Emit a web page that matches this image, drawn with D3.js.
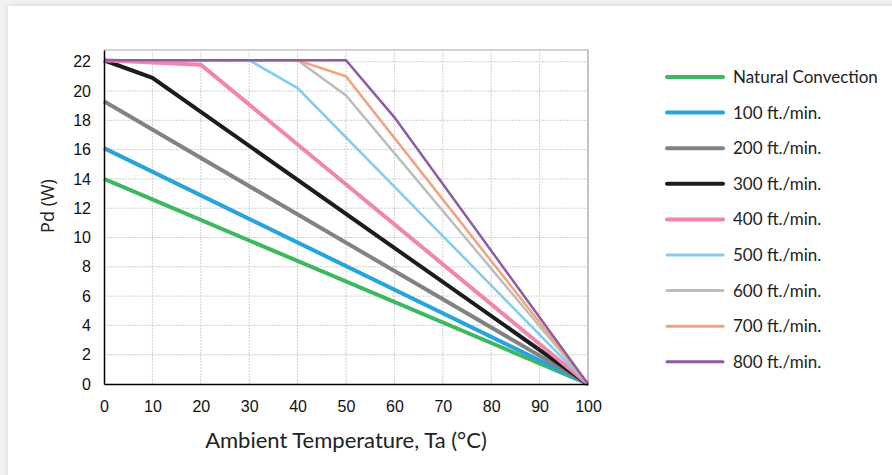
<!DOCTYPE html>
<html>
<head>
<meta charset="utf-8">
<script src="https://cdn.jsdelivr.net/npm/d3@7"></script>
<style>
    html, body { margin: 0; padding: 0; background: #f2f2f2; }
    #card {
        position: absolute; left: 8px; top: 6px; width: 900px; height: 480px;
        background: #fff; box-shadow: 0 0 6px rgba(0,0,0,0.12);
    }
    svg { position: absolute; left: 0; top: 0; }
    .tick text { font-family: 'Liberation Sans', Arial, sans-serif; font-size: 16px; fill: #111; }
</style>
</head>
<body>
<div id="card"></div>
<svg id="chart" width="892" height="475"></svg>
<script>
// DATA
const seriesNames = [
    "Natural Convection", "100 ft./min.", "200 ft./min.", "300 ft./min.",
    "400 ft./min.", "500 ft./min.", "600 ft./min.", "700 ft./min.", "800 ft./min."
];
// [temperature, Pd] breakpoints per series
const natural = [[0, 14.0], [100, 0]];
const ft100 = [[0, 16.1], [100, 0]];
const ft200 = [[0, 19.3], [100, 0]];
const ft300 = [[0, 22.1], [10, 20.9], [100, 0]];
const ft400 = [[0, 22.1], [20, 21.8], [100, 0]];
const ft500 = [[0, 22.1], [30, 22.1], [40, 20.2], [100, 0]];
const ft600 = [[0, 22.1], [40, 22.1], [50, 19.7], [100, 0]];
const ft700 = [[0, 22.1], [40, 22.1], [50, 21.0], [100, 0]];
const ft800 = [[0, 22.1], [50, 22.1], [60, 18.2], [100, 0]];
const seriesValues = [natural, ft100, ft200, ft300, ft400, ft500, ft600, ft700, ft800];
const xTicks = [0, 10, 20, 30, 40, 50, 60, 70, 80, 90, 100];
const yTicks = [0, 2, 4, 6, 8, 10, 12, 14, 16, 18, 20, 22];

const COLORS = ["#3db85f", "#27a3dd", "#808284", "#1b1d1d", "#f186aa", "#80cdee", "#bcbdbd", "#f3a27c", "#8e5ba6"];
const WIDTHS = [4, 4, 4, 4, 4, 2.5, 2.5, 2.5, 2.5];

// LAYOUT
const svg = d3.select("#chart");
const x = d3.scaleLinear().domain([0, 100]).range([104, 588]);
const y = d3.scaleLinear().domain([0, 22.8]).range([384, 50]);

// GRID
const grid = svg.append("g");
grid.selectAll("line.v").data(xTicks.slice(1)).enter().append("line")
    .attr("x1", d => x(d)).attr("x2", d => x(d))
    .attr("y1", y(0)).attr("y2", y(22.8))
    .attr("stroke", "#d0d0d0").attr("stroke-width", 1).attr("stroke-dasharray", "2,1");
grid.selectAll("line.h").data(yTicks.slice(1)).enter().append("line")
    .attr("x1", x(0)).attr("x2", x(100))
    .attr("y1", d => y(d)).attr("y2", d => y(d))
    .attr("stroke", "#d0d0d0").attr("stroke-width", 1).attr("stroke-dasharray", "2,1");

// top & right border
svg.append("path")
    .attr("d", `M${x(0)},${y(22.8)}H${x(100)}V${y(0)}`)
    .attr("fill", "none").attr("stroke", "#a8a8a8").attr("stroke-width", 1.2);

// LINES
const line = d3.line().x(d => x(d[0])).y(d => y(d[1]));
svg.append("g").selectAll("path").data(seriesValues).enter().append("path")
    .attr("d", line)
    .attr("fill", "none")
    .attr("stroke", (d, i) => COLORS[i])
    .attr("stroke-width", (d, i) => WIDTHS[i])
    .attr("stroke-linejoin", "miter");

// AXES
const xAxis = svg.append("g").attr("transform", `translate(0,${y(0)})`)
    .call(d3.axisBottom(x).tickValues(xTicks).tickSize(0).tickPadding(17));
const yAxis = svg.append("g").attr("transform", `translate(${x(0)},0)`)
    .call(d3.axisLeft(y).tickValues(yTicks).tickSize(0).tickPadding(13));
[xAxis, yAxis].forEach(a => {
    a.select(".domain").attr("stroke", "#000").attr("stroke-width", 1.5);
});

svg.append("text")
    .attr("x", (x(0) + x(100)) / 2 + 0).attr("y", 448)
    .attr("text-anchor", "middle")
    .attr("font-family", "Lato, sans-serif").attr("font-size", 22).attr("fill", "#222")
    .text("Ambient Temperature, Ta (°C)");

svg.append("text")
    .attr("transform", "translate(54,206) rotate(-90)")
    .attr("text-anchor", "middle")
    .attr("font-family", "'Open Sans', sans-serif").attr("font-size", 18).attr("fill", "#222")
    .text("Pd (W)");

// LEGEND
const legend = svg.append("g").selectAll("g").data(seriesNames).enter().append("g")
    .attr("transform", (d, i) => `translate(667,${77 + i * 35.6})`);
legend.append("line")
    .attr("x1", 0).attr("x2", 56)
    .attr("stroke", (d, i) => COLORS[i])
    .attr("stroke-width", (d, i) => WIDTHS[i] === 4 ? 4 : 3)
    .attr("stroke-linecap", "round");
legend.append("text")
    .attr("x", 66).attr("dy", "0.35em")
    .attr("font-family", "Lato, sans-serif").attr("font-size", 17).attr("fill", "#222")
    .text(d => d);
</script>
</body>
</html>
